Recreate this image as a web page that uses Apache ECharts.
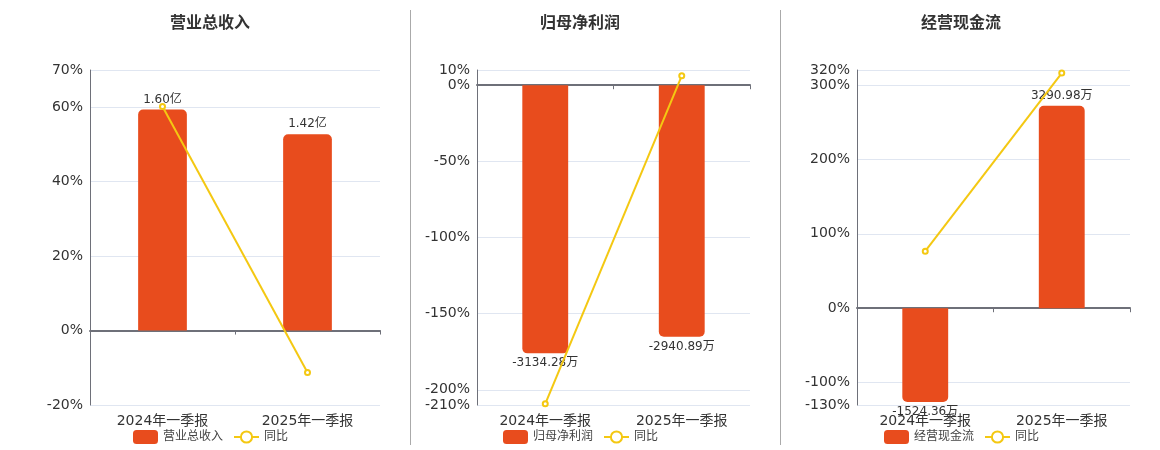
<!DOCTYPE html>
<html>
<head>
<meta charset="utf-8">
<script src="https://cdn.jsdelivr.net/npm/echarts@6/dist/echarts.min.js"></script>
<style>
  html, body { margin: 0; padding: 0; background: #fff; }
  #divChart { width: 1160px; height: 450px; }
</style>
</head>
<body>
<div id="divChart"></div>
<script>
/** 数据 */
var categories = ['2024年一季报', '2025年一季报'];
var titles = ['营业总收入', '归母净利润', '经营现金流'];
var units = ['亿', '万', '万'];

var revenue = [1.60, 1.42];            // 亿
var netProfit = [-3134.28, -2940.89];  // 万
var cashFlow = [-1524.36, 3290.98];    // 万

var revenueYoY = [60.2, -11.25];
var netProfitYoY = [-209.2, 6.17];
var cashFlowYoY = [76.6, 315.9];

var revenueTicks = [-20, 0, 20, 40, 60, 70];
var netProfitTicks = [-210, -200, -150, -100, -50, 0, 10];
var cashFlowTicks = [-130, -100, 0, 100, 200, 300, 320];

var barData = [revenue, netProfit, cashFlow];
var yoyData = [revenueYoY, netProfitYoY, cashFlowYoY];
var tickData = [revenueTicks, netProfitTicks, cashFlowTicks];

/** 布局 */
var gridLeft = [90, 477, 857];
var gridWidth = [290, 273, 273];
var centerX = [210, 580, 961];
// 柱子轴每1%对应的数值，用于与百分比轴的0点对齐
var barPerPct = [0.02694, 17.8, 12.1];

var FONT = 'DejaVu Sans, Noto Sans CJK SC, sans-serif';
var BAR_COLOR = '#E84C1D';
var LINE_COLOR = '#F4C812';
var AXIS_COLOR = '#6E7079';

var option = {
  backgroundColor: '#fff',
  animation: false,
  textStyle: { fontFamily: FONT },
  title: [],
  legend: [],
  grid: [],
  xAxis: [],
  yAxis: [],
  series: [],
  graphic: [
    { type: 'line', shape: { x1: 410.5, y1: 10, x2: 410.5, y2: 445 }, style: { stroke: '#AAAAAA', lineWidth: 1 } },
    { type: 'line', shape: { x1: 780.5, y1: 10, x2: 780.5, y2: 445 }, style: { stroke: '#AAAAAA', lineWidth: 1 } }
  ]
};

for (var i = 0; i < 3; i++) {
  var ticks = tickData[i];
  var pMin = ticks[0], pMax = ticks[ticks.length - 1];

  option.title.push({
    text: titles[i],
    left: centerX[i] - 40,
    top: 16,
    padding: 0,
    textStyle: { fontFamily: FONT, fontSize: 16, fontWeight: 'bold', color: '#333' }
  });

  option.legend.push({
    data: [{ name: titles[i], icon: 'roundRect' }, '同比'],
    left: centerX[i] - 77,
    top: 430,
    padding: 0,
    itemWidth: 25,
    itemHeight: 14,
    itemGap: 10,
    selectedMode: false,
    textStyle: { fontFamily: FONT, fontSize: 12, color: '#444' }
  });

  option.grid.push({ left: gridLeft[i], width: gridWidth[i], top: 70, height: 335 });

  // 0轴上的轴线与刻度
  option.xAxis.push({
    type: 'category', gridIndex: i, data: categories, position: 'top',
    axisLine: { onZero: true, lineStyle: { color: AXIS_COLOR, width: 2 } },
    axisTick: { show: true, inside: true, length: 4, lineStyle: { color: AXIS_COLOR } },
    axisLabel: { show: false }
  });
  // 底部的类目文字
  option.xAxis.push({
    type: 'category', gridIndex: i, data: categories, position: 'bottom',
    axisLine: { show: false, onZero: false },
    axisTick: { show: false },
    axisLabel: { fontFamily: FONT, fontSize: 14, color: '#333', margin: 9 }
  });

  option.yAxis.push({
    type: 'value', gridIndex: i, min: pMin, max: pMax,
    axisLine: { show: true, lineStyle: { color: AXIS_COLOR } },
    axisTick: { show: false, customValues: ticks },
    axisLabel: {
      customValues: ticks, fontFamily: FONT, fontSize: 14, color: '#333', margin: 7,
      padding: [3, 0, 0, 0],
      formatter: function (v) { return v + '%'; }
    },
    splitLine: { show: true, lineStyle: { color: '#E0E6F1' } }
  });
  option.yAxis.push({
    type: 'value', gridIndex: i, show: false,
    min: pMin * barPerPct[i], max: pMax * barPerPct[i],
    splitLine: { show: false }
  });

  var unit = units[i];
  var bars = barData[i].map(function (v) {
    var neg = v < 0;
    return {
      value: v,
      itemStyle: { borderRadius: neg ? [0, 0, 5, 5] : [5, 5, 0, 0] },
      label: { position: neg ? 'bottom' : 'top' }
    };
  });

  option.series.push({
    name: titles[i], type: 'bar',
    xAxisIndex: 2 * i, yAxisIndex: 2 * i + 1,
    barWidth: '33.6%',
    data: bars,
    itemStyle: { color: BAR_COLOR },
    label: {
      show: true, distance: 4, fontFamily: FONT, fontSize: 12, color: '#333',
      formatter: (function (u) {
        return function (p) { return p.value.toFixed(2) + u; };
      })(unit)
    }
  });

  option.series.push({
    name: '同比', type: 'line',
    xAxisIndex: 2 * i, yAxisIndex: 2 * i,
    data: yoyData[i],
    symbol: 'emptyCircle', symbolSize: 5,
    lineStyle: { color: LINE_COLOR, width: 2 },
    itemStyle: { color: LINE_COLOR, borderWidth: 1.5 },
    z: 5
  });
}

var divChart = echarts.init(document.getElementById('divChart'));
divChart.setOption(option);
</script>
</body>
</html>
